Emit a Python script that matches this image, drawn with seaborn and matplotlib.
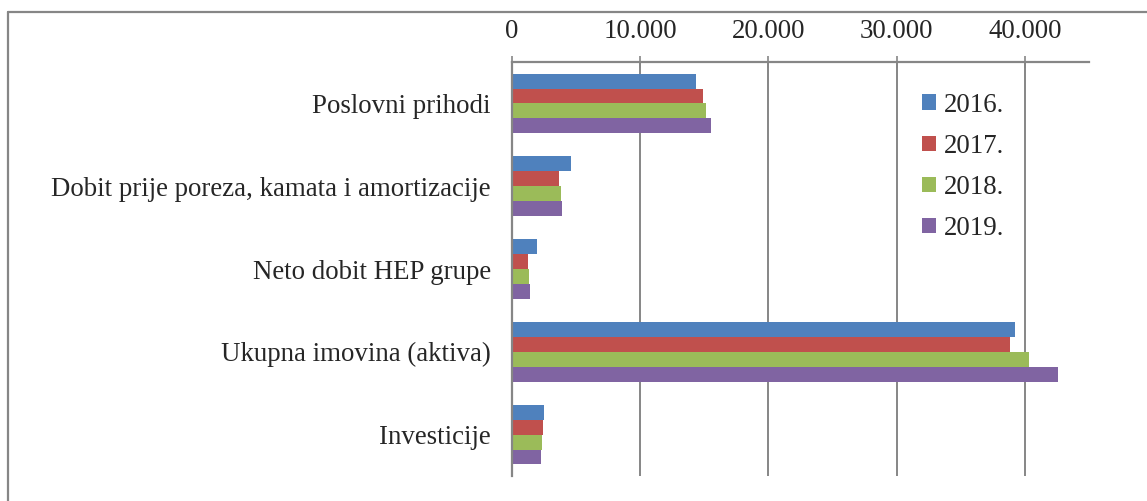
import matplotlib
matplotlib.use("Agg")
import matplotlib.pyplot as plt
import matplotlib.ticker as mticker
import pandas as pd
import seaborn as sns

# data (values in millions)
categories = [
    "Poslovni prihodi",
    "Dobit prije poreza, kamata i amortizacije",
    "Neto dobit HEP grupe",
    "Ukupna imovina (aktiva)",
    "Investicije",
]
years = ["2016.", "2017.", "2018.", "2019."]
values_2016 = [14360, 4600, 2000, 39250, 2540]
values_2017 = [14940, 3710, 1300, 38860, 2420]
values_2018 = [15170, 3870, 1350, 40340, 2360]
values_2019 = [15510, 3950, 1400, 42560, 2310]
colors = ["#4F81BD", "#C0504D", "#9BBB59", "#8064A2"]

df = pd.DataFrame({
    "category": categories * 4,
    "year": [y for y in years for _ in categories],
    "value": values_2016 + values_2017 + values_2018 + values_2019,
})

sns.set_style("white")
plt.rcParams["font.family"] = ["Liberation Serif", "DejaVu Serif"]
fs = 19.4
plt.rcParams["font.size"] = fs

fig = plt.figure(figsize=(11.47, 5.01), dpi=100)
ax = fig.add_axes([0.4461, 0.0499, 0.5033, 0.8263])

sns.barplot(data=df, x="value", y="category", hue="year", order=categories,
            hue_order=years, palette=colors, width=0.72, ax=ax, saturation=1,
            linewidth=0, orient="h")

grey = "#868686"
ax.set_xlim(0, 45000)
ax.xaxis.set_major_locator(mticker.FixedLocator([0, 10000, 20000, 30000, 40000]))
ax.xaxis.set_major_formatter(mticker.FuncFormatter(lambda v, _: f"{int(v):,}".replace(",", ".")))
ax.xaxis.tick_top()
ax.tick_params(axis="x", top=True, bottom=False, direction="inout", length=8,
               width=1.2, color=grey, pad=9, labelsize=fs)
ax.tick_params(axis="y", left=False, length=0, pad=15, labelsize=fs)
ax.grid(axis="x", color=grey, linewidth=1.4)
ax.grid(axis="y", visible=False)
ax.set_axisbelow(True)
ax.set_xlabel("")
ax.set_ylabel("")
for side in ["right", "bottom"]:
    ax.spines[side].set_visible(False)
for side in ["top", "left"]:
    ax.spines[side].set_color(grey)
    ax.spines[side].set_linewidth(1.6)

ax.legend(loc="upper left", bbox_to_anchor=(0.804, 0.815), bbox_transform=fig.transFigure,
          frameon=False, fontsize=fs, handlelength=0.5, handleheight=0.5,
          handletextpad=0.3, labelspacing=0.6, borderpad=0, borderaxespad=0)

# outer chart border (top and left edges visible)
fig.add_artist(plt.Line2D([8 / 1147, 1], [1 - 12 / 501, 1 - 12 / 501], color=grey, linewidth=1.6,
                          transform=fig.transFigure))
fig.add_artist(plt.Line2D([8 / 1147, 8 / 1147], [0, 1 - 12 / 501], color=grey, linewidth=1.6,
                          transform=fig.transFigure))

fig.savefig("out.png", dpi=100)
